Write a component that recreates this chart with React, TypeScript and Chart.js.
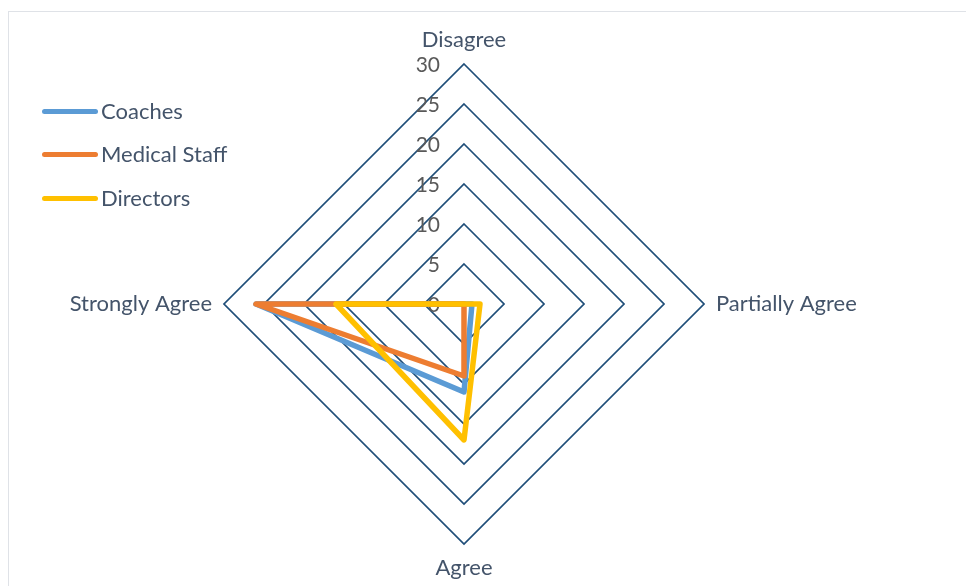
import React, { useEffect, useRef } from "react";
import { Chart, registerables } from "chart.js";

Chart.register(...registerables);

const categories = ["Disagree", "Partially Agree", "Agree", "Strongly Agree"];
const coaches = [0, 1, 11, 26];
const medicalStaff = [0, 0, 9, 26];
const directors = [0, 2, 17, 16];
const tickValues = [0, 5, 10, 15, 20, 25, 30];
const seriesNames = ["Coaches", "Medical Staff", "Directors"];

const COLORS = ["#5B9BD5", "#ED7D31", "#FFC000"];
const FONT = "Lato";
const TEXT = "#44546A";

const tickPlugin = {
  id: "tickLabels",
  beforeDatasetsDraw(chart: any) {
    const s = chart.scales.r;
    const ctx = chart.ctx;
    ctx.save();
    ctx.font = `21px ${FONT}`;
    ctx.fillStyle = "#595959";
    ctx.textAlign = "right";
    ctx.textBaseline = "middle";
    tickValues.forEach((v) => {
      const d = s.getDistanceFromCenterForValue(v);
      ctx.fillText(String(v), s.xCenter - 24, s.yCenter - d + 1);
    });
    ctx.restore();
  },
};

export default function App() {
  const ref = useRef<HTMLCanvasElement>(null);
  useEffect(() => {
    if (!ref.current) return;
    const series = [coaches, medicalStaff, directors];
    const chart = new Chart(ref.current, {
      type: "radar",
      data: {
        labels: categories,
        datasets: series.map((d, i) => ({
          label: seriesNames[i],
          data: d,
          borderColor: COLORS[i],
          backgroundColor: COLORS[i],
          borderWidth: 5.5,
          fill: false,
          pointRadius: 0,
          pointHoverRadius: 0,
          tension: 0,
          borderJoinStyle: "round" as const,
          order: 2 - i,
        })),
      },
      options: {
        animation: false,
        responsive: true,
        maintainAspectRatio: false,
        layout: { padding: { left: 0, right: 38, top: 28, bottom: 6 } },
        plugins: { legend: { display: false }, tooltip: { enabled: false } },
        scales: {
          r: {
            min: 0,
            max: 30,
            startAngle: 0,
            ticks: { display: false, stepSize: 5 },
            grid: { circular: false, color: "#1F4E79", lineWidth: 1.75 },
            angleLines: { display: false },
            pointLabels: {
              display: true,
              padding: 12,
              color: TEXT,
              font: { family: FONT, size: 22, lineHeight: "24px" },
            },
          },
        },
      },
      plugins: [tickPlugin],
    });
    return () => chart.destroy();
  }, []);

  const legendTops = [111, 154, 198];
  return (
    <div style={{ position: "absolute", left: 0, top: 0, width: 966, height: 586, background: "#fff", overflow: "hidden" }}>
      <div style={{ position: "absolute", left: 8, top: 11, width: 980, height: 600, border: "1px solid #DFE2E7", boxSizing: "border-box" }} />
      <div style={{ position: "absolute", left: 0, top: 0, width: 966, height: 586 }}>
        <canvas ref={ref} />
      </div>
      {seriesNames.map((n, i) => (
        <div key={n} style={{ position: "absolute", left: 42, top: legendTops[i] - 14, height: 28, display: "flex", alignItems: "center" }}>
          <div style={{ width: 56, height: 5, borderRadius: 3, background: COLORS[i] }} />
          <span style={{ marginLeft: 3, fontFamily: FONT, fontSize: 22, color: TEXT, lineHeight: "28px" }}>{n}</span>
        </div>
      ))}
    </div>
  );
}
